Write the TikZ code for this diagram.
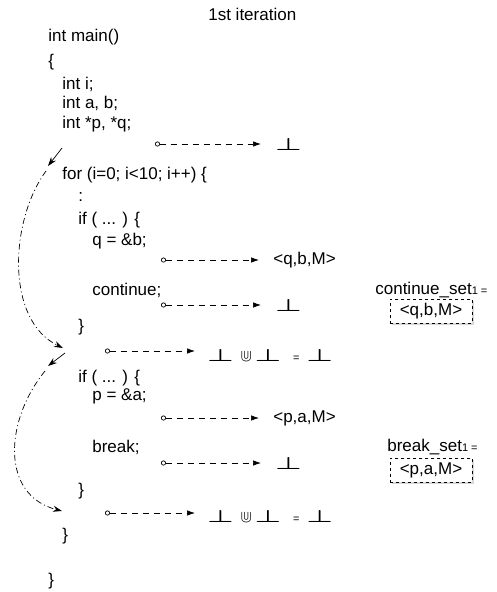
\documentclass[tikz,border=0pt]{standalone}
\usepackage{fontspec}
\setmainfont{Liberation Sans}
\usepackage{amsmath}
\usepackage{amssymb}
\usepackage{graphicx}
\usetikzlibrary{arrows.meta, shadows}

\newcommand{\bperp}{\scalebox{1.7}[1]{$\boldsymbol{\perp}$}}
\newcommand{\smalleq}{{\fontsize{11}{12}\selectfont =}}
\newcommand{\smallsub}[1]{{\fontsize{11}{12}\selectfont #1}}

\begin{document}
\begin{tikzpicture}[x=1pt, y=-1pt, font=\fontsize{17}{20}\selectfont, line width=0.7pt,
    code/.style={anchor=base west, inner sep=0pt},
    res/.style={anchor=west, inner sep=0pt},
    flow/.style={dash pattern=on 6pt off 5pt, {Circle[open, length=5pt]}-{Latex[length=8pt, width=5.5pt]}, shorten >=14pt},
    back/.style={-{Stealth[length=9pt, width=6pt]}},
    loopback/.style={dash pattern=on 6pt off 3pt on 1pt off 3pt, -{Stealth[length=9pt, width=6pt]}},
    setbox/.style={draw, dashed, fill=white, inner sep=0pt, minimum width=82pt, minimum height=24pt,
        drop shadow={shadow xshift=1.5pt, shadow yshift=-1.5pt, fill=gray!60}}]
    % Layout: code on the left, facts on the right
    \useasboundingbox (0,0) rectangle (497,592);

    \node[code] (title) at (208,20) {1st iteration};

    % Source lines
    \node[code] (main) at (48,41) {int main()};
    \node[code] (open0) at (48,66) {\{};
    \node[code] (di) at (62,89) {int i;};
    \node[code] (dab) at (62,108) {int a, b;};
    \node[code] (dpq) at (62,128) {int *p, *q;};
    \node[code] (for) at (62,179) {for (i=0; i<10; i++) \{};
    \node[code] (dots) at (78,201) {:};
    \node[code] (if1) at (78,224) {if ( ... ) \{};
    \node[code] (qb) at (92,245) {q = \&b;};
    \node[code] (cont) at (92,295) {continue;};
    \node[code] (close1) at (78,331) {\}};
    \node[code] (if2) at (78,382) {if ( ... ) \{};
    \node[code] (pa) at (92,400) {p = \&a;};
    \node[code] (brk) at (92,452) {break;};
    \node[code] (close2) at (78,495) {\}};
    \node[code] (close3) at (62,540) {\}};
    \node[code] (close4) at (48,585) {\}};

    % Program points
    \coordinate (p0) at (155,144);
    \coordinate (p1) at (161,260);
    \coordinate (p2) at (161,305);
    \coordinate (p3) at (105,351);
    \coordinate (p4) at (161,418);
    \coordinate (p5) at (161,463);
    \coordinate (p6) at (105,513);

    % Facts at each point
    \node[res] (r0) at (275,144) {\bperp};
    \node[res] (r1) at (273,260) {<q,b,M>};
    \node[res] (r2) at (275,305) {\bperp};
    \node[code] (r3) at (207,361) {\bperp\hspace{7pt}$\Cup$\hspace{3pt}\bperp\hspace{12pt}\smalleq\hspace{7pt}\bperp};
    \node[res] (r4) at (273,418) {<p,a,M>};
    \node[res] (r5) at (275,463) {\bperp};
    \node[code] (r6) at (207,522) {\bperp\hspace{7pt}$\Cup$\hspace{3pt}\bperp\hspace{12pt}\smalleq\hspace{7pt}\bperp};

    \draw[flow] (p0) -- (p0 -| r0.west);
    \draw[flow] (p1) -- (p1 -| r1.west);
    \draw[flow] (p2) -- (p2 -| r2.west);
    \draw[flow, shorten >=12pt] (p3) -- (p3 -| r3.west);
    \draw[flow] (p4) -- (p4 -| r4.west);
    \draw[flow] (p5) -- (p5 -| r5.west);
    \draw[flow, shorten >=12pt] (p6) -- (p6 -| r6.west);

    % Sets
    \node[code] (cset) at (375,294) {continue\_set\smallsub{1 =}};
    \node[setbox] (cbox) at (431,311) {<q,b,M>};
    \node[code] (bset) at (387,451) {break\_set\smallsub{1 =}};
    \node[setbox] (bbox) at (431,470) {<p,a,M>};

    % Control flow of the loop body
    \coordinate (a1) at (62,148);
    \coordinate (a2) at (48,166);
    \coordinate (a3) at (46,171);
    \coordinate (a4) at (63,348);
    \coordinate (b1) at (65,353);
    \coordinate (b2) at (48,366);
    \coordinate (b3) at (45,371);
    \coordinate (b4) at (62,511);
    \draw[back] (a1) -- (a2);
    \draw[loopback] (a3) .. controls (10,220) and (5,320) .. (a4);
    \draw[back] (b1) -- (b2);
    \draw[loopback] (b3) .. controls (5,420) and (0,495) .. (b4);

\end{tikzpicture}
\end{document}
